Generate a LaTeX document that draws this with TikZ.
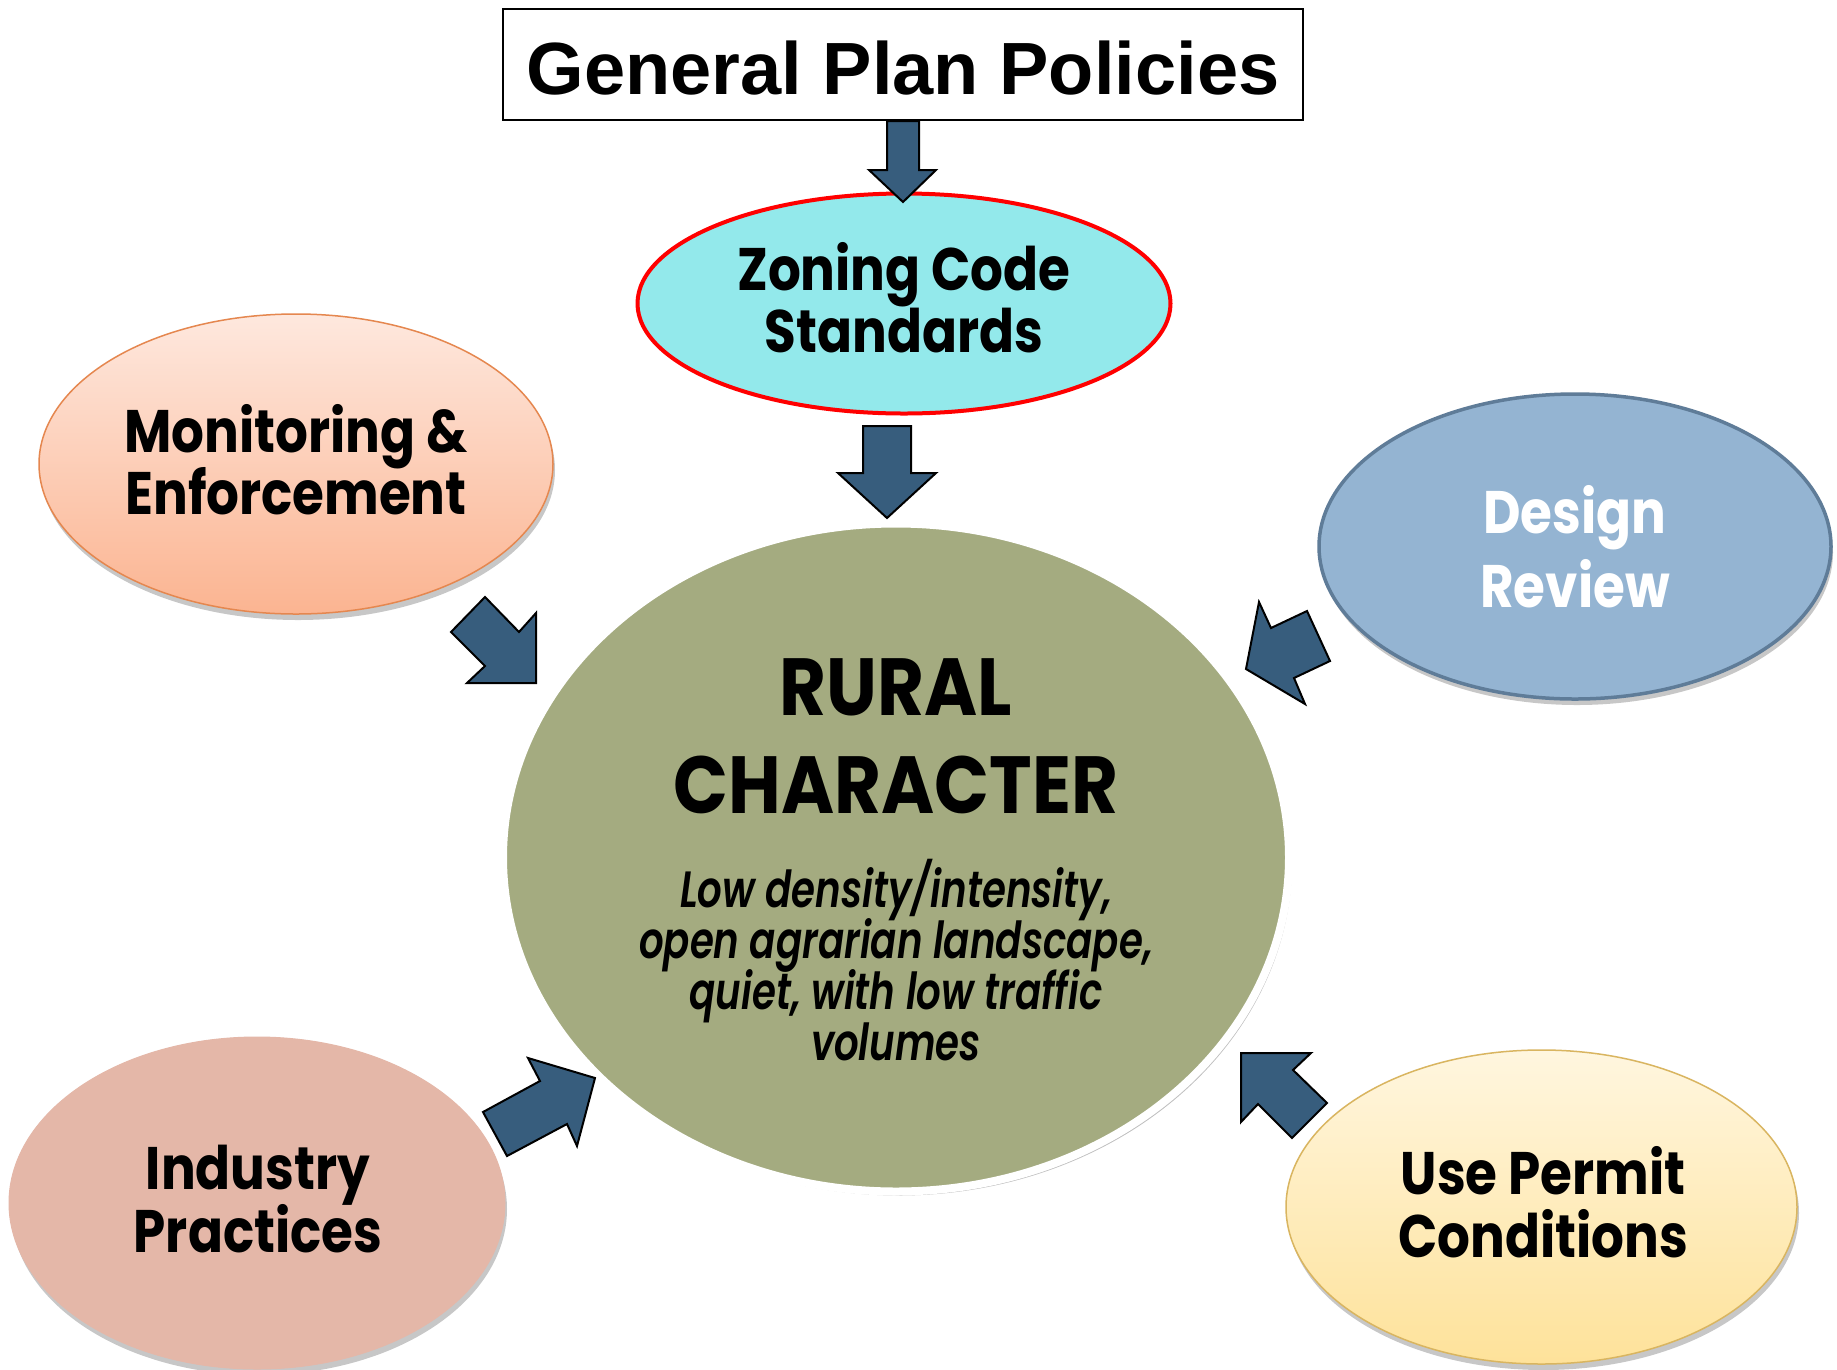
\documentclass[tikz,border=0pt]{standalone}
\usepackage{fontspec}
\usetikzlibrary{shapes.geometric,shadows}
\newfontfamily\titlefont{Liberation Sans}
\newfontfamily\fut[FakeStretch=0.86]{Poppins}
\newfontfamily\futbig[FakeStretch=0.89]{Poppins}
\newfontfamily\futit[FakeStretch=0.76]{Poppins SemiBold Italic}
\definecolor{arrowblue}{HTML}{375D7D}
\definecolor{zonfill}{HTML}{93E9EB}
\definecolor{montop}{HTML}{FEE8DE}
\definecolor{monbot}{HTML}{FBB491}
\definecolor{monline}{HTML}{E5874F}
\definecolor{desfill}{HTML}{94B4D2}
\definecolor{desline}{HTML}{5F7C98}
\definecolor{cenfill}{HTML}{A4AB80}
\definecolor{indfill}{HTML}{E4B7A8}
\definecolor{usetop}{HTML}{FFF6DF}
\definecolor{usebot}{HTML}{FEE29A}
\definecolor{useline}{HTML}{D9B560}
\tikzset{
  blk/.style={draw=black, line width=2pt, fill=arrowblue, line join=miter},
  oval/.style={ellipse, inner sep=0pt, outer sep=0pt},
  shad/.style={drop shadow={shadow xshift=2pt, shadow yshift=-6pt, opacity=0.22, fill=black}},
  lbl/.style={inner sep=0pt, anchor=base, font=\fut\bfseries\fontsize{60}{62}\selectfont},
  ital/.style={inner sep=0pt, anchor=base, font=\futit\fontsize{51}{53}\selectfont},
  big/.style={inner sep=0pt, anchor=base, font=\futbig\bfseries\fontsize{81}{84}\selectfont},
}
\begin{document}
\begin{tikzpicture}[x=1pt,y=-1pt]
\useasboundingbox (0,0) rectangle (1837,1369);
\fill[white] (0,0) rectangle (1837,1369);

% title
\node[draw=black, line width=2pt, minimum width=800pt, minimum height=111pt, inner sep=0pt] (title) at (903,64.5) {};
\node[inner sep=0pt, anchor=base, font=\titlefont\bfseries\fontsize{74}{80}\selectfont] (ttitle) at (903,94) {General Plan Policies};

% ellipses
\node[oval, shad, draw=monline, line width=1.5pt, top color=montop, bottom color=monbot, minimum width=514pt, minimum height=300pt] (mon) at (296,464) {};
\node[oval, shad, draw=desline, line width=3.5pt, fill=desfill, minimum width=512pt, minimum height=305pt] (des) at (1575,546.5) {};
\node[oval, shad, draw=indfill, line width=1pt, fill=indfill, minimum width=496pt, minimum height=332pt] (ind) at (257,1203) {};
\node[oval, shad, draw=useline, line width=1.5pt, top color=usetop, bottom color=usebot, minimum width=511pt, minimum height=314pt] (use) at (1541.5,1207) {};
\node[oval, draw=red, line width=4pt, fill=zonfill, minimum width=533pt, minimum height=220pt] (zon) at (904,303.5) {};
\node[oval, drop shadow={shadow xshift=3pt, shadow yshift=-4pt, opacity=0.25, fill=black}, draw=white, line width=8pt, fill=cenfill, minimum width=786pt, minimum height=668pt] (cen) at (896,857.5) {};

% block arrows
\draw[blk] (887,121) -- (919,121) -- (919,170) -- (936,170) -- (903,202) -- (869,170) -- (887,170) -- cycle;
\draw[blk] (863,426) -- (911,426) -- (911,473) -- (936,473) -- (887,518) -- (838,473) -- (863,473) -- cycle;
\draw[blk] (485,597) -- (451,632) -- (485,666) -- (467,683) -- (536,683) -- (536,613) -- (519,632) -- cycle;
\draw[blk] (1246,669) -- (1259,602) -- (1271,628) -- (1307,611) -- (1330,661) -- (1294,678) -- (1305,704) -- cycle;
\draw[blk] (483,1112) -- (507,1156) -- (567,1124) -- (577,1146) -- (595,1078) -- (528,1058) -- (540,1081) -- cycle;
\draw[blk] (1241,1053) -- (1311,1053) -- (1293,1070) -- (1327,1103) -- (1292,1138) -- (1258,1104) -- (1241,1122) -- cycle;

% texts
\node[lbl] (tzon1) at (904,290.6) {Zoning Code};
\node[lbl] (tzon2) at (904,352.6) {Standards};
\node[lbl] (tmon1) at (296,452) {Monitoring \&};
\node[lbl] (tmon2) at (296,514) {Enforcement};
\node[lbl, text=white] (tdes1) at (1575,533) {Design};
\node[lbl, text=white] (tdes2) at (1575,607) {Review};
\node[lbl] (tind1) at (258,1189) {Industry};
\node[lbl] (tind2) at (258,1252) {Practices};
\node[lbl] (tuse1) at (1543,1194) {Use Permit};
\node[lbl] (tuse2) at (1543,1257) {Conditions};
\node[big] (tcen1) at (896,715) {RURAL};
\node[big] (tcen2) at (896,813) {CHARACTER};
\node[ital] (tit1) at (896,907) {Low density/intensity,};
\node[ital] (tit2) at (896,958) {open agrarian landscape,};
\node[ital] (tit3) at (896,1009) {quiet, with low traffic};
\node[ital] (tit4) at (896,1060) {volumes};
\end{tikzpicture}
\end{document}
